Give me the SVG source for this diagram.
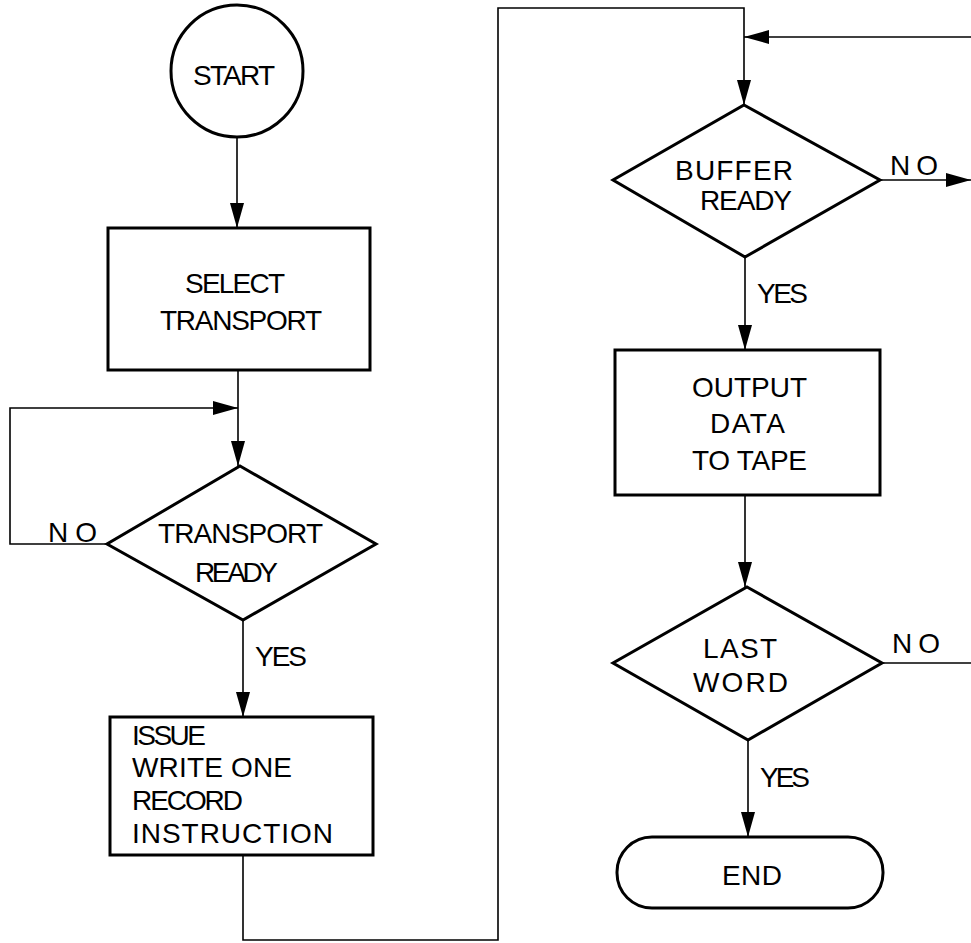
<svg xmlns="http://www.w3.org/2000/svg" width="971" height="943" viewBox="0 0 971 943">
<defs>
<style>
.shape{fill:#fff;stroke:#000;stroke-width:3;stroke-linejoin:miter}
.conn{fill:none;stroke:#000;stroke-width:1.6}
.t{font-family:"Liberation Sans",Arial,sans-serif;font-size:28px;fill:#000}
</style>
<marker id="ah" markerWidth="25" markerHeight="14" refX="25" refY="7" orient="auto" markerUnits="userSpaceOnUse">
<path d="M0,0 L25,7 L0,14 Z" fill="#000"/>
</marker>
</defs>
<rect width="971" height="943" fill="#fff"/>
<g id="connectors">
<path class="conn" d="M237,138 V228" marker-end="url(#ah)"/>
<path class="conn" d="M238,370 V466" marker-end="url(#ah)"/>
<path class="conn" d="M107,544 H10 V408 H238" marker-end="url(#ah)"/>
<path class="conn" d="M243,620 V717" marker-end="url(#ah)"/>
<path class="conn" d="M243,855 V940 H498 V8 H744 V105" marker-end="url(#ah)"/>
<path class="conn" d="M971,37 H744" marker-end="url(#ah)"/>
<path class="conn" d="M880,180 H971" marker-end="url(#ah)"/>
<path class="conn" d="M745,257 V350" marker-end="url(#ah)"/>
<path class="conn" d="M745,495 V587" marker-end="url(#ah)"/>
<path class="conn" d="M882,663 H971"/>
<path class="conn" d="M748,740 V837" marker-end="url(#ah)"/>
<text class="t" x="48" y="542" textLength="49">NO</text>
<text class="t" x="255" y="666" textLength="52">YES</text>
<text class="t" x="890" y="175" textLength="48">NO</text>
<text class="t" x="757" y="303" textLength="51">YES</text>
<text class="t" x="892" y="653" textLength="48">NO</text>
<text class="t" x="760" y="787" textLength="50">YES</text>
</g>
<g id="start">
<circle class="shape" cx="237" cy="71" r="66"/>
<text class="t" x="193" y="85" textLength="82">START</text>
</g>
<g id="select-transport">
<rect class="shape" x="108" y="228" width="262" height="142"/>
<text class="t" x="185" y="293" textLength="100">SELECT</text>
<text class="t" x="160" y="330" textLength="162">TRANSPORT</text>
</g>
<g id="transport-ready">
<polygon class="shape" points="240,466 376,544 243,620 107,544"/>
<text class="t" x="158" y="543" textLength="165">TRANSPORT</text>
<text class="t" x="195" y="582" textLength="83">READY</text>
</g>
<g id="issue-write">
<rect class="shape" x="110" y="717" width="263" height="138"/>
<text class="t" x="132" y="745" textLength="74">ISSUE</text>
<text class="t" x="132" y="777" textLength="160">WRITE ONE</text>
<text class="t" x="132" y="810" textLength="111">RECORD</text>
<text class="t" x="132" y="843" textLength="201">INSTRUCTION</text>
</g>
<g id="buffer-ready">
<polygon class="shape" points="744,105 880,180 745,257 613,180"/>
<text class="t" x="675" y="180" textLength="118">BUFFER</text>
<text class="t" x="700" y="210" textLength="92">READY</text>
</g>
<g id="output-data">
<rect class="shape" x="615" y="350" width="265" height="145"/>
<text class="t" x="692" y="397" textLength="115">OUTPUT</text>
<text class="t" x="710" y="433" textLength="75">DATA</text>
<text class="t" x="692" y="470" textLength="115">TO TAPE</text>
</g>
<g id="last-word">
<polygon class="shape" points="747,587 882,663 748,740 613,663"/>
<text class="t" x="703" y="658" textLength="74">LAST</text>
<text class="t" x="693" y="692" textLength="95">WORD</text>
</g>
<g id="end">
<rect class="shape" x="617" y="837" width="266" height="71" rx="35" ry="35"/>
<text class="t" x="722" y="885" textLength="60">END</text>
</g>
</svg>
